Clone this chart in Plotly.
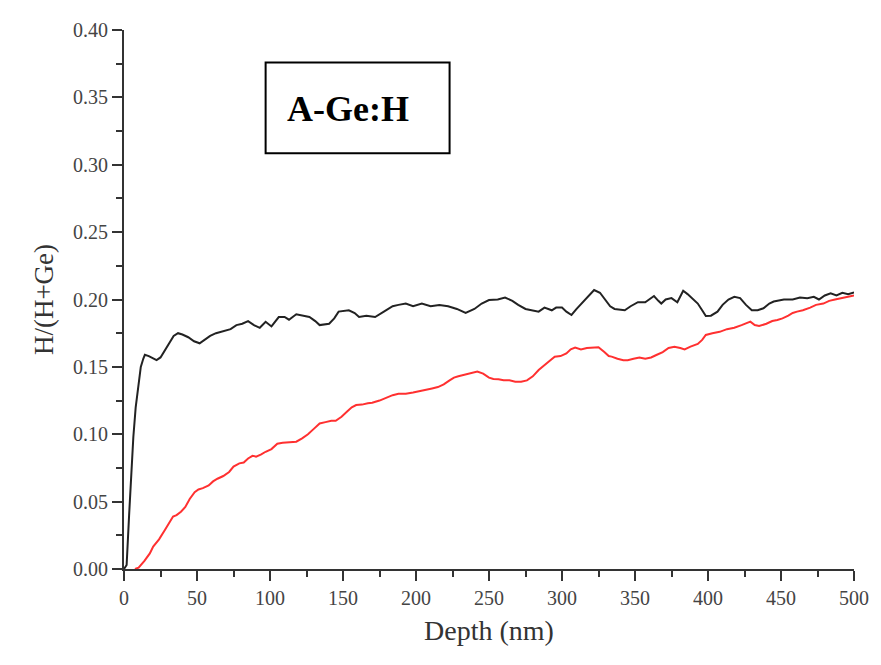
import plotly.graph_objects as go

# Black curve (upper)
black_x = [0, 1.8, 3.5, 5.2, 6.4, 8, 9.8, 11.5, 13.2, 14.3, 17, 20, 22.3, 25, 28, 31, 34, 37, 40, 44, 48,
           51.8, 55, 59, 63, 66, 70, 73, 77, 81, 85, 89, 93, 97, 101, 106, 110, 113, 118, 123, 127, 131,
           134, 140.5, 144, 147, 154, 158, 161, 166, 172, 178, 184, 188, 193, 198, 204, 210, 216, 222,
           228, 234, 240, 245, 250, 256, 261, 266, 270, 275, 280, 284, 288, 293, 296, 300, 303, 306.5,
           310, 315, 319, 322, 326, 330, 333, 336, 343, 347, 352, 357, 360, 363, 366, 368, 371, 375,
           379, 381, 383, 386, 390, 393, 396, 398.5, 402, 406.5, 410, 414, 418, 422, 426, 430, 434,
           438, 442, 445, 452, 458, 463, 468, 472.5, 476, 480, 484, 488, 492, 496, 500]
black_y = [0, 0.003, 0.04, 0.076, 0.098, 0.12, 0.138, 0.150, 0.156, 0.159, 0.158, 0.156, 0.155, 0.157,
           0.162, 0.168, 0.173, 0.175, 0.174, 0.172, 0.169, 0.1675, 0.170, 0.173, 0.175, 0.176, 0.177,
           0.178, 0.181, 0.182, 0.184, 0.181, 0.179, 0.1835, 0.180, 0.187, 0.187, 0.185, 0.189, 0.188,
           0.187, 0.184, 0.181, 0.182, 0.186, 0.191, 0.192, 0.190, 0.187, 0.188, 0.187, 0.191, 0.195,
           0.196, 0.197, 0.195, 0.197, 0.195, 0.196, 0.195, 0.193, 0.190, 0.193, 0.197, 0.1996, 0.200,
           0.2015, 0.199, 0.196, 0.193, 0.192, 0.191, 0.194, 0.192, 0.194, 0.194, 0.191, 0.1885, 0.193,
           0.199, 0.204, 0.207, 0.205, 0.199, 0.195, 0.193, 0.192, 0.195, 0.198, 0.198, 0.200, 0.2026,
           0.199, 0.197, 0.200, 0.201, 0.198, 0.202, 0.2065, 0.204, 0.200, 0.197, 0.192, 0.1877, 0.188,
           0.191, 0.196, 0.200, 0.202, 0.201, 0.196, 0.192, 0.192, 0.1935, 0.197, 0.1985, 0.200, 0.200,
           0.2015, 0.201, 0.202, 0.200, 0.203, 0.2046, 0.203, 0.205, 0.204, 0.2053]

# Red curve (lower)
red_x = [7.5, 10, 14, 17.7, 20, 24, 28, 31, 33.6, 36, 39, 42, 45, 48.4, 51, 54, 58, 61, 64, 68, 72, 75,
         79, 82, 85, 88, 90.5, 94, 97, 101, 105, 108.7, 113, 118, 122, 126, 130, 134, 138, 142, 145,
         149, 153, 156, 159, 163, 167, 170, 175, 180, 184, 188, 193, 198, 203, 207, 211, 215, 219, 223,
         226, 229, 233, 237, 242, 246, 250, 253, 256.5, 260, 264, 268, 272, 276, 280, 284, 288, 291,
         295, 299, 303, 306, 309, 313, 317, 321, 325, 329, 332, 334, 338, 342, 345, 349, 353, 357, 361,
         365, 369, 373, 377, 381, 384, 388, 393, 396, 398.5, 403, 408, 413, 418, 423, 427, 429, 432,
         435, 440, 444, 447.5, 451, 455, 458, 461, 465, 470, 474, 479, 483, 487, 491, 495, 500]
red_y = [0.0, 0.001, 0.006, 0.0116, 0.0166, 0.022, 0.029, 0.034, 0.039, 0.040, 0.0425, 0.046, 0.052,
         0.057, 0.059, 0.060, 0.062, 0.065, 0.067, 0.069, 0.072, 0.076, 0.0784, 0.079, 0.082, 0.084,
         0.0834, 0.085, 0.087, 0.089, 0.093, 0.0937, 0.094, 0.0945, 0.097, 0.100, 0.104, 0.108, 0.109,
         0.110, 0.110, 0.113, 0.117, 0.120, 0.1217, 0.122, 0.123, 0.1234, 0.125, 0.127, 0.129, 0.130,
         0.130, 0.131, 0.132, 0.133, 0.134, 0.135, 0.137, 0.140, 0.142, 0.143, 0.144, 0.145, 0.1465,
         0.145, 0.142, 0.141, 0.1408, 0.140, 0.140, 0.139, 0.139, 0.140, 0.143, 0.1477, 0.151, 0.154,
         0.1576, 0.158, 0.160, 0.163, 0.1643, 0.163, 0.164, 0.164, 0.1645, 0.161, 0.158, 0.1576, 0.156,
         0.155, 0.155, 0.156, 0.157, 0.156, 0.157, 0.159, 0.161, 0.164, 0.165, 0.164, 0.163, 0.165,
         0.167, 0.170, 0.1737, 0.175, 0.176, 0.178, 0.179, 0.181, 0.183, 0.1836, 0.181, 0.1803, 0.182,
         0.184, 0.1848, 0.186, 0.188, 0.190, 0.191, 0.192, 0.194, 0.196, 0.197, 0.199, 0.200, 0.201,
         0.202, 0.203]

x_ticks = [0, 50, 100, 150, 200, 250, 300, 350, 400, 450, 500]
y_ticks = [0.00, 0.05, 0.10, 0.15, 0.20, 0.25, 0.30, 0.35, 0.40]
label_text = "A-Ge:H"

FONT = "Liberation Serif, Times New Roman, serif"
AX = "#333333"

fig = go.Figure()
fig.add_trace(go.Scatter(x=black_x, y=black_y, mode="lines",
                         line=dict(color="#222222", width=2), showlegend=False))
fig.add_trace(go.Scatter(x=red_x, y=red_y, mode="lines",
                         line=dict(color="#ff3030", width=2), showlegend=False))

fig.add_shape(type="rect", xref="x", yref="y", x0=97, x1=223, y0=0.3085, y1=0.3758,
              line=dict(color="black", width=2), fillcolor="rgba(0,0,0,0)")
fig.add_annotation(x=110, y=0.3415, xref="x", yref="y", text="<b>" + label_text + "</b>",
                   showarrow=False, xanchor="left", yanchor="middle",
                   font=dict(family=FONT, size=36, color="black"))

fig.update_layout(
    width=881, height=665,
    margin=dict(l=124, r=22, t=30, b=96),
    paper_bgcolor="white", plot_bgcolor="white",
    font=dict(family=FONT, color="#444444"),
    xaxis=dict(range=[0, 500], tickvals=x_ticks, ticktext=[str(v) for v in x_ticks],
               showgrid=False, zeroline=False, showline=True, linecolor=AX, linewidth=2,
               ticks="outside", ticklen=10, tickwidth=2, tickcolor=AX,
               minor=dict(dtick=25, ticks="outside", ticklen=6, tickwidth=2, tickcolor=AX),
               tickfont=dict(family=FONT, size=20, color="#444444"),
               title=dict(text="Depth (nm)", font=dict(family=FONT, size=28, color="#333333"),
                          standoff=12)),
    yaxis=dict(range=[0, 0.40], tickvals=y_ticks, ticktext=["%.2f" % v for v in y_ticks],
               showgrid=False, zeroline=False, showline=True, linecolor=AX, linewidth=2,
               ticks="outside", ticklen=10, tickwidth=2, tickcolor=AX,
               minor=dict(dtick=0.025, ticks="outside", ticklen=6, tickwidth=2, tickcolor=AX),
               tickfont=dict(family=FONT, size=20, color="#444444"),
               title=dict(text="H/(H+Ge)", font=dict(family=FONT, size=27, color="#333333"),
                          standoff=12)),
)

fig.write_html("out.html")
